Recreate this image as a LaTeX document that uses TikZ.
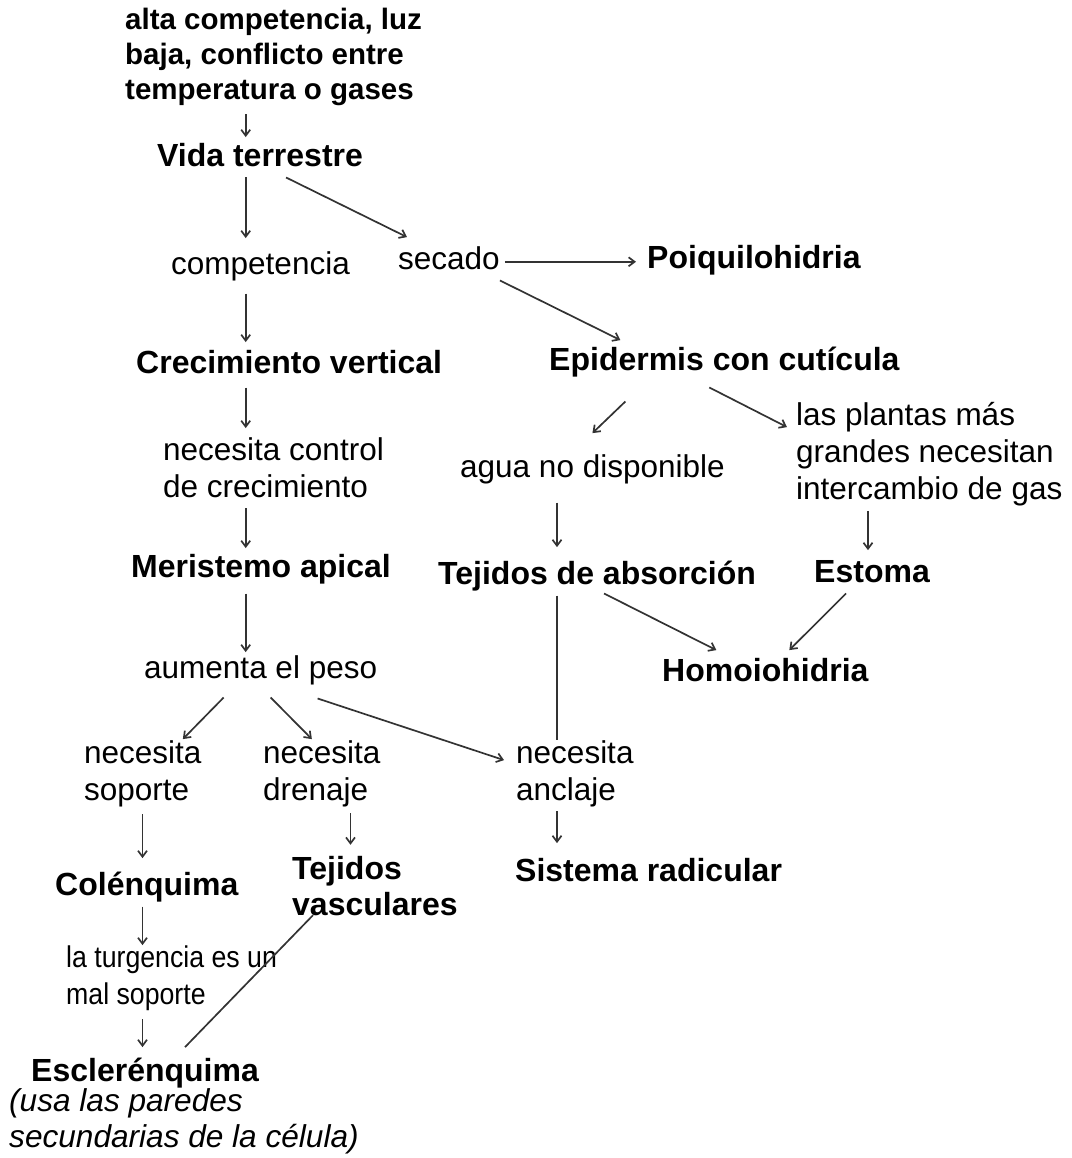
\documentclass[tikz,border=0pt]{standalone}
\usepackage{fontspec}
\setmainfont{Liberation Sans}
\newfontfamily\narrowfont[FakeStretch=0.89]{Liberation Sans}
\usetikzlibrary{arrows.meta}
\definecolor{ink}{HTML}{333333}

\begin{document}
\begin{tikzpicture}[x=1pt, y=-1pt,
    every node/.style={anchor=north west, inner sep=0pt, align=left,
      execute at begin node=\strut, execute at end node=\strut},
    txt/.style={font=\fontsize{31.5}{37}\selectfont},
    key/.style={font=\fontsize{32}{37}\selectfont\bfseries},
    cause/.style={font=\fontsize{29.5}{35}\selectfont\bfseries},
    small/.style={font=\narrowfont\fontsize{30}{37}\selectfont},
    note/.style={font=\fontsize{31.6}{36}\selectfont\itshape},
    arr/.style={draw=ink, line width=1.7pt, -{Straight Barb[length=6pt,width=9pt]}},
    link/.style={draw=ink, line width=1.7pt}]
    \useasboundingbox (0,0) rectangle (1071,1158);
    % columns of the vertical arrows
    \coordinate (spine) at (245.7,0);
    \coordinate (colS) at (142.5,0);
    \coordinate (colD) at (350.5,0);
    \coordinate (colR) at (557,0);
    \coordinate (colE) at (868,0);
    % texts
    \node[cause] (cause) at (125,7.5) {alta competencia, luz\\baja, conflicto entre\\temperatura o gases};
    \node[key] (vida) at (157,140.1) {Vida terrestre};
    \node[txt] (comp) at (171,248.1) {competencia};
    \node[txt] (secado) at (398,243.1) {secado};
    \node[key] (poiq) at (647,242.1) {Poiquilohidria};
    \node[key] (crec) at (136,347.1) {Crecimiento vertical};
    \node[key] (epid) at (549,344.1) {Epidermis con cutícula};
    \node[txt] (control) at (163,437.1) {necesita control\\de crecimiento};
    \node[txt] (agua) at (460,451.1) {agua no disponible};
    \node[txt] (plantas) at (796,402.1) {las plantas más\\grandes necesitan\\intercambio de gas};
    \node[key] (meri) at (131,551.1) {Meristemo apical};
    \node[key] (absor) at (438,558.1) {Tejidos de absorción};
    \node[key] (estoma) at (814,556.1) {Estoma};
    \node[txt] (peso) at (144,652.1) {aumenta el peso};
    \node[key] (homo) at (662,655.1) {Homoiohidria};
    \node[txt] (soporte) at (84,740.1) {necesita\\soporte};
    \node[txt] (drenaje) at (263,740.1) {necesita\\drenaje};
    \node[txt] (anclaje) at (516,740.1) {necesita\\anclaje};
    \node[key] (colen) at (55,869.1) {Colénquima};
    \node[key, font=\fontsize{32}{36}\selectfont\bfseries] (vasc) at (292,855.8) {Tejidos\\vasculares};
    \node[key] (sistema) at (515,855.1) {Sistema radicular};
    \node[small] (turg) at (66,945.1) {la turgencia es un\\mal soporte};
    \node[key] (escl) at (31,1055.1) {Esclerénquima};
    \node[note] (paredes) at (9,1088.8) {(usa las paredes\\secundarias de la célula)};
    % left column
    \draw[arr, shorten <=4.5pt, shorten >=3pt] (cause.south -| spine) -- (vida.north -| spine);
    \draw[arr, shorten >=10pt] (vida.south -| spine) -- (comp.north -| spine);
    \draw[arr, shorten <=8pt, shorten >=5pt] (comp.south -| spine) -- (crec.north -| spine);
    \draw[arr, shorten <=3pt, shorten >=9pt] (crec.south -| spine) -- (control.north -| spine);
    \draw[arr, shorten >=3pt] (control.south -| spine) -- (meri.north -| spine);
    \draw[arr, shorten <=5pt] (meri.south -| spine) -- (peso.north -| spine);
    % drying branch
    \draw[arr] ([xshift=26pt]vida.south) -- ([xshift=-42pt,yshift=6pt]secado.north);
    \draw[arr, shorten <=5pt, shorten >=11pt] (secado.east) -- (secado.east -| poiq.west);
    \draw[arr] (secado.south east) -- ([xshift=-104pt,yshift=4pt]epid.north);
    \draw[arr] ([xshift=-99pt,yshift=-20pt]epid.south) -- ([yshift=18pt]agua.north);
    \draw[arr] ([xshift=-15pt,yshift=-6pt]epid.south) -- ([xshift=-9pt,yshift=-25pt]plantas.north west);
    \draw[arr, shorten <=14pt, shorten >=11pt] (agua.south -| colR) -- (absor.north -| colR);
    \draw[arr, shorten >=6pt] (plantas.south -| colE) -- (estoma.north -| colE);
    \draw[arr] ([xshift=7pt,yshift=2pt]absor.south) -- ([xshift=-49pt,yshift=5pt]homo.north);
    \draw[arr] ([xshift=-26pt]estoma.south) -- ([xshift=24pt,yshift=5pt]homo.north);
    \draw[link] (absor.south -| colR) -- (anclaje.north -| colR);
    % weight branch
    \draw[arr] ([xshift=-37pt,yshift=-8pt]peso.south) -- ([xshift=40pt,yshift=1pt]soporte.north);
    \draw[arr] ([xshift=10pt,yshift=-8pt]peso.south) -- ([xshift=-10pt,yshift=1pt]drenaje.north);
    \draw[arr] ([xshift=57pt,yshift=-9pt]peso.south) -- ([xshift=-12pt,yshift=-20pt]anclaje.north west);
    \draw[arr, shorten <=3pt, shorten >=11pt] (soporte.south -| colS) -- (colen.north -| colS);
    \draw[arr, shorten <=2pt, shorten >=11pt] (drenaje.south -| colD) -- (vasc.north -| colD);
    \draw[arr, shorten >=12pt] (anclaje.south -| colR) -- (sistema.north -| colR);
    \draw[arr] (colen.south -| colS) -- (turg.north -| colS);
    \draw[arr, shorten <=4pt, shorten >=8pt] (turg.south -| colS) -- (escl.north -| colS);
    \draw[link] ([xshift=21pt,yshift=11pt]vasc.south west) -- ([xshift=40pt,yshift=8pt]escl.north);
\end{tikzpicture}
\end{document}
